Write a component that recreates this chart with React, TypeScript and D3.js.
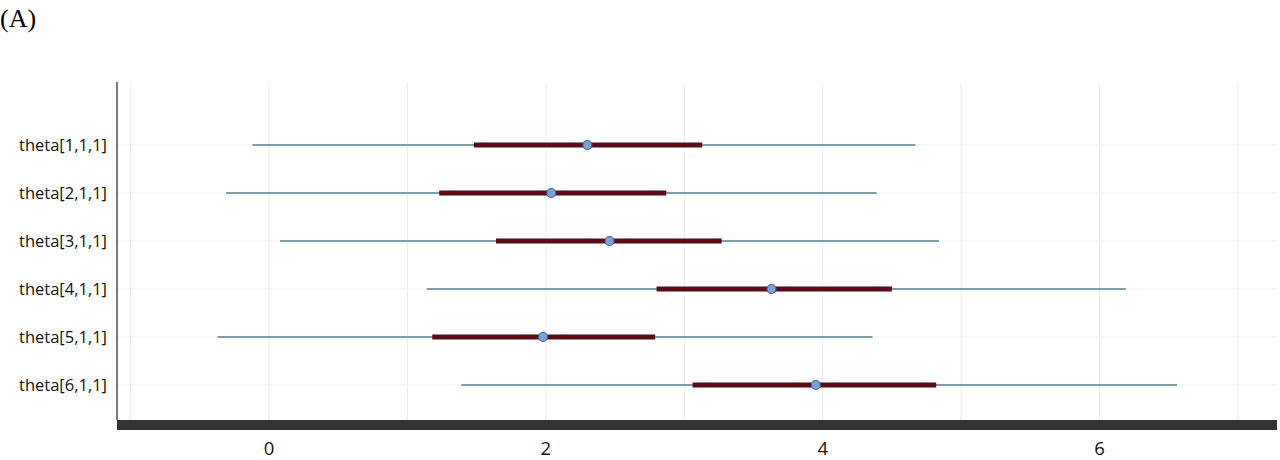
import React from "react";
import * as d3 from "d3";

const labels = ["theta[1,1,1]", "theta[2,1,1]", "theta[3,1,1]", "theta[4,1,1]", "theta[5,1,1]", "theta[6,1,1]"];
const outerLow = [-0.12, -0.31, 0.08, 1.14, -0.37, 1.39];
const outerHigh = [4.67, 4.39, 4.84, 6.19, 4.36, 6.56];
const innerLow = [1.48, 1.23, 1.64, 2.8, 1.18, 3.06];
const innerHigh = [3.13, 2.87, 3.27, 4.5, 2.79, 4.82];
const medians = [2.3, 2.04, 2.46, 3.63, 1.98, 3.95];
const gridValues = [-1, 0, 1, 2, 3, 4, 5, 6, 7];
const tickValues = [0, 2, 4, 6];

export default function App() {
  const W = 1280, H = 460;
  const left = 117, right = 1277, top = 82, bottom = 420;
  const x = d3.scaleLinear().domain([-1.0975, 7.2816]).range([left, right]);
  const y = d3.scalePoint<string>().domain(labels).range([145, 385]);
  const font = "'Open Sans', 'Noto Sans', sans-serif";
  return (
    <svg width={W} height={H} style={{ position: "absolute", left: 0, top: 0, background: "#fff" }}>
      <text x={0} y={27} fontFamily="'Liberation Serif', 'Times New Roman', serif" fontSize={26} fill="#000">(A)</text>
      {gridValues.map((v) => (
        <line key={"g" + v} x1={x(v)} x2={x(v)} y1={top} y2={bottom} stroke="#ececf0" strokeWidth={1} />
      ))}
      {labels.map((l) => (
        <line key={"h" + l} x1={left} x2={right} y1={y(l)!} y2={y(l)!} stroke="#efefef" strokeWidth={1} />
      ))}
      <line x1={left} x2={left} y1={top} y2={bottom} stroke="#7a7a7a" strokeWidth={2} />
      <rect x={left} y={bottom} width={right - left} height={10} fill="#333333" />
      {labels.map((l, i) => (
        <g key={l}>
          <text x={107} y={y(l)!} dy="0.35em" textAnchor="end" fontFamily={font} fontSize={16.5} fill="#111">{l}</text>
          <line x1={x(outerLow[i])} x2={x(outerHigh[i])} y1={y(l)!} y2={y(l)!} stroke="#7d9ea6" strokeWidth={2} />
          <line x1={x(innerLow[i])} x2={x(innerHigh[i])} y1={y(l)!} y2={y(l)!} stroke="#5a0a18" strokeWidth={5} />
          <circle cx={x(medians[i])} cy={y(l)!} r={4.5} fill="#74a3de" stroke="#4a6587" strokeWidth={1.2} />
        </g>
      ))}
      {tickValues.map((v) => (
        <text key={"t" + v} x={x(v)} y={455} textAnchor="middle" fontFamily={font} fontSize={18.5} fill="#111">{v}</text>
      ))}
    </svg>
  );
}
